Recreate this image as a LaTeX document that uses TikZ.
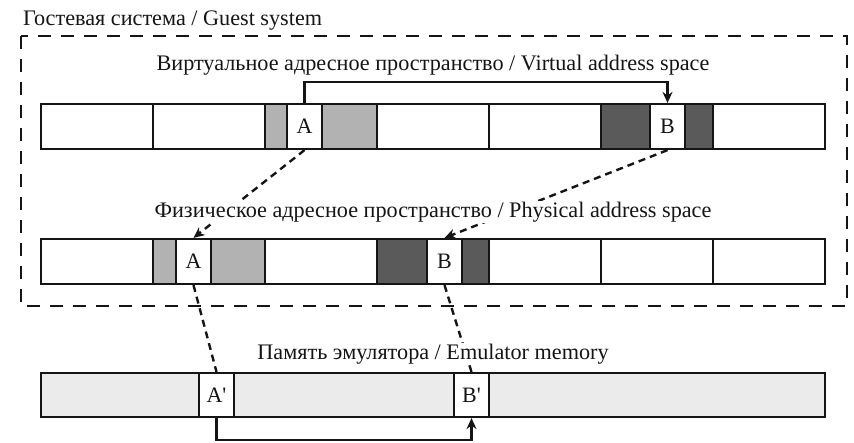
\documentclass[tikz,border=0pt]{standalone}
\usepackage{fontspec}
\setmainfont{Liberation Serif}
\usetikzlibrary{arrows.meta}

\definecolor{inkc}{HTML}{151515}
\definecolor{lightcell}{HTML}{B2B2B2}
\definecolor{darkcell}{HTML}{5A5A5A}
\definecolor{membg}{HTML}{EBEBEB}

\tikzset{
  cell/.style={draw=inkc, line width=2.2pt, fill=white, inner sep=0pt,
               minimum height=45pt, font=\fontsize{22}{26}\selectfont, text=inkc},
  lightc/.style={cell, fill=lightcell},
  darkc/.style={cell, fill=darkcell},
  caption/.style={font=\fontsize{22.2}{26}\selectfont, text=inkc, inner sep=1pt},
  jump/.style={draw=inkc, line width=2.2pt, -{Stealth[length=11pt,width=10pt]}},
  mapto/.style={draw=inkc, line width=2.4pt, dash pattern=on 7pt off 5pt},
  frame/.style={draw=inkc, line width=2.4pt, dash pattern=on 13pt off 10pt},
}

\begin{document}
\begin{tikzpicture}[x=1pt, y=-1pt]
\useasboundingbox (0,0) rectangle (854,442);

% guest system boundary
\draw[frame] (21,36) rectangle (847,306);

% virtual address space
\node[cell,  minimum width=112] (v1) at (97,126.5) {};
\node[cell,  minimum width=112] (v2) at (209,126.5) {};
\node[lightc,minimum width=22]  (v3) at (276,126.5) {};
\node[cell,  minimum width=35]  (vA) at (304.5,126.5) {A};
\node[lightc,minimum width=55]  (v4) at (349.5,126.5) {};
\node[cell,  minimum width=112] (v5) at (433,126.5) {};
\node[cell,  minimum width=112] (v6) at (545,126.5) {};
\node[darkc, minimum width=49]  (v7) at (625.5,126.5) {};
\node[cell,  minimum width=35]  (vB) at (667.5,126.5) {B};
\node[darkc, minimum width=28]  (v8) at (699,126.5) {};
\node[cell,  minimum width=112] (v9) at (769,126.5) {};

% physical address space
\node[cell,  minimum width=112] (p1) at (97,261.5) {};
\node[lightc,minimum width=23]  (p2) at (164.5,261.5) {};
\node[cell,  minimum width=35]  (pA) at (193.5,261.5) {A};
\node[lightc,minimum width=54]  (p3) at (238,261.5) {};
\node[cell,  minimum width=112] (p4) at (321,261.5) {};
\node[darkc, minimum width=50]  (p5) at (402,261.5) {};
\node[cell,  minimum width=35]  (pB) at (444.5,261.5) {B};
\node[darkc, minimum width=27]  (p6) at (475.5,261.5) {};
\node[cell,  minimum width=112] (p7) at (545,261.5) {};
\node[cell,  minimum width=112] (p8) at (657,261.5) {};
\node[cell,  minimum width=112] (p9) at (769,261.5) {};

% emulator memory
\node[cell, fill=membg, minimum width=784, minimum height=44] (mem) at (433,395) {};
\node[cell, minimum width=35, minimum height=44] (mA) at (216.5,395) {A\textquotesingle};
\node[cell, minimum width=35, minimum height=44] (mB) at (471.5,395) {B\textquotesingle};

% address mappings
\draw[mapto, -{Stealth[length=11pt,width=10pt]}] (vA.south) -- (pA.north);
\draw[mapto, -{Stealth[length=11pt,width=10pt]}] (vB.south) -- (pB.north);
\draw[mapto] (pA.south) -- (mA.north);
\draw[mapto] (pB.south) -- (mB.north);

% jumps
\coordinate (jtop) at (0,82);
\coordinate (jbot) at (0,440);
\draw[jump] (vA.north) |- (jtop -| vA.north) -| (vB.north);
\draw[jump] (mA.south) |- (jbot -| mA.south) -| (mB.south);

% captions
\node[caption, anchor=base west] (tguest) at (22,25) {Гостевая система / Guest system};
\node[caption, anchor=base] (tvirt) at (433,70) {Виртуальное адресное пространство / Virtual address space};
\node[caption, anchor=base, fill=white] (tphys) at (433,217) {Физическое адресное пространство / Physical address space};
\node[caption, anchor=base, fill=white] (tmem) at (433,359) {Память эмулятора / Emulator memory};
\end{tikzpicture}
\end{document}
